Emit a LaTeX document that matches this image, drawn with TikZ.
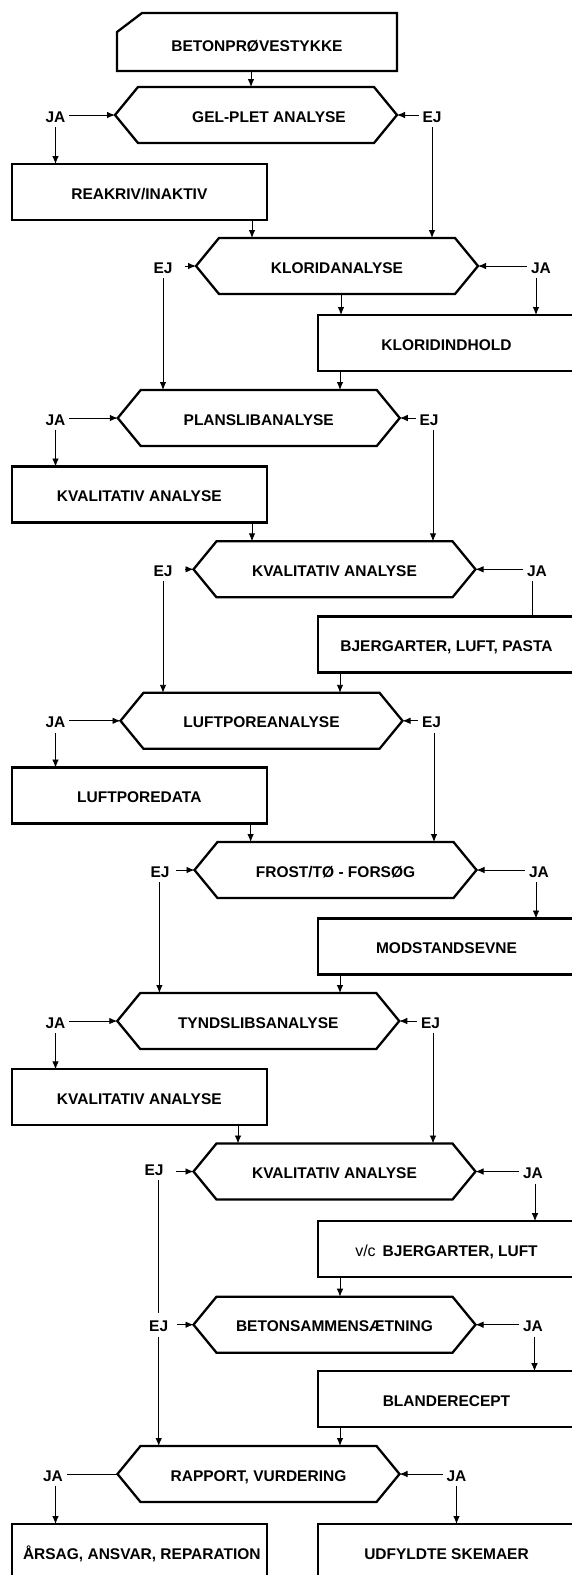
\documentclass[tikz,border=0pt]{standalone}
\usepackage{fontspec}
\setmainfont{Liberation Sans}
\usetikzlibrary{arrows.meta}
\newcommand\hexpath[1]{\draw[hexline] (#1.west) -- ([xshift=23pt]#1.north west) -- ([xshift=-23pt]#1.north east) -- (#1.east) -- ([xshift=-23pt]#1.south east) -- ([xshift=23pt]#1.south west) -- cycle;}
\begin{document}
\begin{tikzpicture}[x=1pt,y=-1pt,
  every node/.style={font=\bfseries\fontsize{15.5pt}{18pt}\selectfont, outer sep=0pt},
  boxn/.style={draw, line width=2.3pt, minimum width=255.3pt, minimum height=56pt, inner sep=0pt, text height=14.3pt, text depth=0pt},
  rbox/.style={boxn, minimum width=257pt},
  hexn/.style={minimum width=282pt, minimum height=56pt, inner sep=0pt, text height=14.3pt, text depth=0pt},
  lab/.style={inner xsep=4pt, inner ysep=5pt, text height=14.3pt, text depth=0pt},
  conn/.style={line width=0.9pt},
  arr/.style={conn, -{Latex[length=8pt,width=6.5pt]}},
  hexline/.style={line width=2.3pt, line join=miter}
]
\useasboundingbox (0,0) rectangle (572,1575);
\clip (0,0) rectangle (572,1575);

% top box
\node[boxn, draw=none, minimum width=280pt, minimum height=58pt, text height=19pt] (beton) at (257,42) {BETONPRØVESTYKKE};
\draw[hexline] (beton.south west) -- ([yshift=-19pt]beton.north west) -- ([xshift=25pt]beton.north west) -- (beton.north east) -- (beton.south east) -- cycle;

% row 1
\node[hexn] (gel) at (256,115) {\hspace{26pt}GEL-PLET ANALYSE};
\hexpath{gel}
\node[lab] (jaG) at (55.5,115) {JA};
\node[lab] (ejG) at (432,115) {EJ};
\node[boxn] (reak) at (139.35,192) {REAKRIV/INAKTIV\hspace{18pt}};

% row 2
\node[hexn] (kloa) at (337,266) {KLORIDANALYSE};
\hexpath{kloa}
\node[lab] (ejK) at (163,266) {EJ};
\node[lab] (jaK) at (541,266) {JA};
\node[rbox] (klob) at (446.5,343) {KLORIDINDHOLD};

% row 3
\node[hexn] (plan) at (258.75,418) {PLANSLIBANALYSE\hspace{10pt}};
\hexpath{plan}
\node[lab] (jaP) at (55.5,418) {JA};
\node[lab] (ejP) at (429,418) {EJ};
\node[boxn] (kval1) at (139.35,494.5) {KVALITATIV ANALYSE\hspace{20pt}};

% row 4
\node[hexn] (kval2) at (334.5,569.3) {KVALITATIV ANALYSE};
\hexpath{kval2}
\node[lab] (ejQ) at (163,569.3) {EJ};
\node[lab] (jaQ) at (537,569.3) {JA};
\node[rbox] (bjerg) at (446.5,644.5) {BJERGARTER, LUFT, PASTA};

% row 5
\node[hexn] (luftp) at (261.5,720.8) {LUFTPOREANALYSE};
\hexpath{luftp}
\node[lab] (jaL) at (55.5,720.8) {JA};
\node[lab] (ejL) at (431.5,720.8) {EJ};
\node[boxn] (luftd) at (139.35,795.5) {LUFTPOREDATA};

% row 6
\node[hexn] (frost) at (335.5,870) {FROST/TØ - FORSØG};
\hexpath{frost}
\node[lab] (ejF) at (160,870) {EJ};
\node[lab] (jaF) at (539,870) {JA};
\node[rbox] (modst) at (446.5,946.5) {MODSTANDSEVNE};

% row 7
\node[hexn] (tynd) at (258.25,1021) {TYNDSLIBSANALYSE\hspace{8pt}};
\hexpath{tynd}
\node[lab] (jaT) at (55.5,1021) {JA};
\node[lab] (ejT) at (430.5,1021) {EJ};
\node[boxn] (kval3) at (139.35,1097.3) {KVALITATIV ANALYSE\hspace{19pt}};

% row 8
\node[hexn] (kval4) at (334.5,1171.5) {KVALITATIV ANALYSE};
\hexpath{kval4}
\node[lab] (ejQ4) at (154,1168) {EJ};
\node[lab] (jaQ4) at (533,1171.5) {JA};
\node[rbox] (vc) at (446.5,1249.2) {{\mdseries\fontsize{16pt}{18pt}\selectfont v/c}\hspace{7pt}BJERGARTER, LUFT};

% row 9
\node[hexn] (betons) at (334.5,1324.7) {BETONSAMMENSÆTNING};
\hexpath{betons}
\node[lab] (ejB) at (158.7,1324.7) {EJ};
\node[lab] (jaB) at (533,1324.7) {JA};
\node[rbox] (blande) at (446.5,1399.2) {BLANDERECEPT};

% row 10
\node[hexn] (rapport) at (258.5,1474) {RAPPORT, VURDERING\hspace{9pt}};
\hexpath{rapport}
\node[lab] (jaRL) at (53,1474) {JA};
\node[lab] (jaRR) at (456.5,1474) {JA};
\node[boxn] (aarsag) at (139.35,1552) {\hspace{5pt}ÅRSAG, ANSVAR, REPARATION};
\node[rbox] (udf) at (446.5,1552) {UDFYLDTE SKEMAER};

% connectors
\draw[arr] ([xshift=-6pt]beton.south) -- ([xshift=-5pt]gel.north);
\draw[arr] (jaG.east) -- (gel.west);
\draw[arr] (ejG.west) -- (gel.east);
\draw[arr] (jaG.south) -- (jaG.south |- reak.north);
\draw[arr] (ejG.south) -- (ejG.south |- kloa.north);
\draw[arr] ([xshift=112.65pt]reak.south) -- ([xshift=-85pt]kloa.north);

\draw[arr,shorten <=9pt] (ejK.east) -- (kloa.west);
\draw[arr] (jaK.west) -- (kloa.east);
\draw[arr] ([xshift=4pt]kloa.south) -- ([xshift=-105.5pt]klob.north);
\draw[arr] ([xshift=-5pt]jaK.south) -- ([xshift=89.5pt]klob.north);
\draw[arr] (ejK.south) -- (ejK.south |- plan.north);
\draw[arr] ([xshift=-106.5pt]klob.south) -- ([xshift=81.25pt]plan.north);

\draw[arr] (jaP.east) -- (plan.west);
\draw[arr] (ejP.west) -- (plan.east);
\draw[arr] (jaP.south) -- (jaP.south |- kval1.north);
\draw[arr] ([xshift=4pt]ejP.south) -- ([xshift=98.5pt]kval2.north);
\draw[arr] ([xshift=112.65pt]kval1.south) -- ([xshift=-82.5pt]kval2.north);

\draw[arr,shorten <=9pt] (ejQ.east) -- (kval2.west);
\draw[arr] (jaQ.west) -- (kval2.east);
\draw[conn] ([xshift=-4.4pt]jaQ.south) -- ([xshift=86.1pt]bjerg.north);
\draw[arr] (ejQ.south) -- (ejQ.south |- luftp.north);
\draw[arr] ([xshift=-106.5pt]bjerg.south) -- ([xshift=78.5pt]luftp.north);

\draw[arr] (jaL.east) -- (luftp.west);
\draw[arr] (ejL.west) -- (luftp.east);
\draw[arr] (jaL.south) -- (jaL.south |- luftd.north);
\draw[arr] ([xshift=2.5pt]ejL.south) -- ([xshift=98.5pt]frost.north);
\draw[arr] ([xshift=111.25pt]luftd.south) -- ([xshift=-84.9pt]frost.north);

\draw[arr,shorten <=3pt] (ejF.east) -- (frost.west);
\draw[arr] (jaF.west) -- (frost.east);
\draw[arr] ([xshift=-3pt]jaF.south) -- ([xshift=89.5pt]modst.north);
\draw[arr] ([xshift=-0.6pt]ejF.south) -- ([xshift=-98.85pt]tynd.north);
\draw[arr] ([xshift=-106.5pt]modst.south) -- ([xshift=81.75pt]tynd.north);

\draw[arr] (jaT.east) -- (tynd.west);
\draw[arr] (ejT.west) -- (tynd.east);
\draw[arr] (jaT.south) -- (jaT.south |- kval3.north);
\draw[arr] ([xshift=2.5pt]ejT.south) -- ([xshift=98.5pt]kval4.north);
\draw[arr] ([xshift=98.65pt]kval3.south) -- ([xshift=-96.5pt]kval4.north);

\draw[arr,shorten <=9pt] (ejQ4.east |- kval4.west) -- (kval4.west);
\draw[arr] (jaQ4.west) -- (kval4.east);
\draw[arr] ([xshift=2pt]jaQ4.south) -- ([xshift=88.5pt]vc.north);
\draw[conn] ([xshift=4.7pt]ejQ4.south) -- (ejB.north);
\draw[arr] ([xshift=-106.5pt]vc.south) -- ([xshift=5.5pt]betons.north);

\draw[arr,shorten <=5pt] (ejB.east) -- (betons.west);
\draw[arr] (jaB.west) -- (betons.east);
\draw[arr] ([xshift=1.5pt]jaB.south) -- ([xshift=88pt]blande.north);
\draw[arr] (ejB.south) -- ([xshift=-99.8pt]rapport.north);
\draw[arr] ([xshift=-106.5pt]blande.south) -- ([xshift=81.5pt]rapport.north);

\draw[conn] (jaRL.east) -- (rapport.west);
\draw[arr] (jaRR.west) -- (rapport.east);
\draw[arr] ([xshift=2.5pt]jaRL.south) -- ([xshift=-83.85pt]aarsag.north);
\draw[arr] (jaRR.south) -- ([xshift=10pt]udf.north);
\end{tikzpicture}
\end{document}
